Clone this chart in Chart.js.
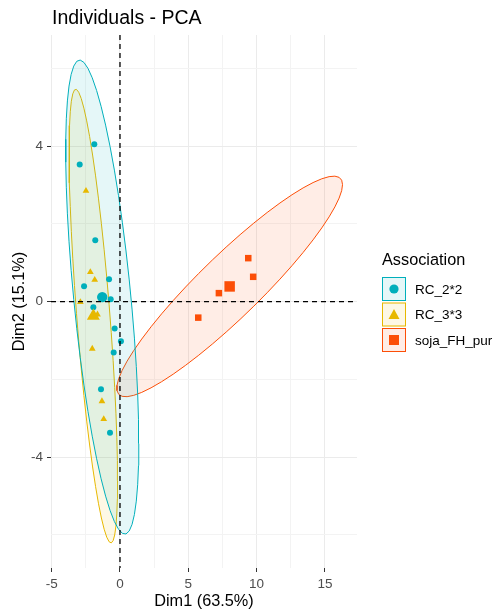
<!DOCTYPE html>
<html>
<head>
<meta charset="utf-8">
<title>Individuals - PCA</title>
<script src="https://cdn.jsdelivr.net/npm/chart.js@4.4.1/dist/chart.umd.min.js"></script>
<style>
    html, body { margin: 0; padding: 0; background: #ffffff; }
    #wrap { width: 497px; height: 614px; }
</style>
</head>
<body>
<div id="wrap"><canvas id="pcaChart" width="497" height="614"></canvas></div>
<script>
// Individuals coordinates
var groups = ['RC_2*2', 'RC_3*3', 'soja_FH_pur'];
var rc22Dim1 = [-1.88, -2.95, -1.81, -0.80, -2.63, -0.68, -1.95, -0.39, 0.07, -0.46, -1.39, -0.73];
var rc22Dim2 = [4.05, 3.53, 1.58, 0.58, 0.40, 0.06, -0.14, -0.69, -1.02, -1.31, -2.25, -3.37];
var rc33Dim1 = [-2.49, -2.17, -1.85, -2.90, -2.03, -1.32, -1.19, -1.65];
var rc33Dim2 = [2.85, 0.76, 0.56, -0.01, -1.21, -2.56, -3.02, -0.33];
var sojaDim1 = [9.39, 9.75, 7.24, 5.73];
var sojaDim2 = [1.12, 0.64, 0.22, -0.41];

// axis ticks
var xTicks = [-5, 0, 5, 10, 15];
var xMinor = [-2.5, 2.5, 7.5, 12.5];
var yTicks = [-4, 0, 4];
var yMinor = [-6, -2, 2, 6];

var colors = ['#00AFBB', '#E7B800', '#FC4E07'];
var fills = ['rgba(0,175,187,0.1)', 'rgba(231,184,0,0.1)', 'rgba(252,78,7,0.1)'];
var FONT = "'Liberation Sans', Arial, sans-serif";

function mean(a) {
    var s = 0;
    for (var i = 0; i < a.length; i++) s += a[i];
    return s / a.length;
}

function toPoints(xs, ys) {
    return xs.map(function(x, i) { return { x: x, y: ys[i] }; });
}

// same as ggplot2 stat_ellipse(type = "norm", level = 0.95)
function ellipse(xs, ys) {
    var n = xs.length, mx = mean(xs), my = mean(ys);
    var sxx = 0, syy = 0, sxy = 0;
    for (var i = 0; i < n; i++) {
        sxx += (xs[i] - mx) * (xs[i] - mx);
        syy += (ys[i] - my) * (ys[i] - my);
        sxy += (xs[i] - mx) * (ys[i] - my);
    }
    sxx /= n - 1; syy /= n - 1; sxy /= n - 1;
    var a = Math.sqrt(sxx), b = sxy / a, c = Math.sqrt(syy - b * b);
    var radius = Math.sqrt((n - 1) * (Math.pow(0.05, -2 / (n - 1)) - 1));
    var pts = [];
    for (var k = 0; k <= 51; k++) {
        var t = k * 2 * Math.PI / 51;
        pts.push({
            x: mx + radius * a * Math.cos(t),
            y: my + radius * (b * Math.cos(t) + c * Math.sin(t))
        });
    }
    return pts;
}

var dims = [[rc22Dim1, rc22Dim2], [rc33Dim1, rc33Dim2], [sojaDim1, sojaDim2]];
var shapes = ['circle', 'triangle', 'rect'];
var smallR = [3, 3.9, 4.6];
var bigR = [5.2, 7.5, 7.4];

var datasets = [];
dims.forEach(function(d, g) {
    datasets.push({
        label: groups[g],
        data: toPoints(d[0], d[1]),
        pointStyle: shapes[g],
        pointRadius: smallR[g],
        backgroundColor: colors[g],
        borderWidth: 0,
        order: 1
    });
    datasets.push({
        label: groups[g] + ' mean',
        data: [{ x: mean(d[0]), y: mean(d[1]) }],
        pointStyle: shapes[g],
        pointRadius: bigR[g],
        backgroundColor: colors[g],
        borderWidth: 0,
        order: 0
    });
    datasets.push({
        label: groups[g] + ' ellipse',
        data: ellipse(d[0], d[1]),
        showLine: true,
        pointRadius: 0,
        borderColor: colors[g],
        borderWidth: 1,
        backgroundColor: fills[g],
        fill: 'shape',
        tension: 0,
        order: 2
    });
});

// dashed zero lines, titles and legend
var decorations = {
    id: 'decorations',
    afterDatasetsDraw: function(chart) {
        var ctx = chart.ctx, area = chart.chartArea;
        var x0 = chart.scales.x.getPixelForValue(0);
        var y0 = chart.scales.y.getPixelForValue(0);
        ctx.save();
        ctx.strokeStyle = '#000000';
        ctx.lineWidth = 1.3;
        ctx.setLineDash([5, 4]);
        ctx.beginPath();
        ctx.moveTo(x0, area.top);
        ctx.lineTo(x0, area.bottom);
        ctx.moveTo(area.left, y0);
        ctx.lineTo(area.right, y0);
        ctx.stroke();
        ctx.restore();
    },
    afterDraw: function(chart) {
        var ctx = chart.ctx, area = chart.chartArea;
        ctx.save();
        ctx.fillStyle = '#000000';
        ctx.textBaseline = 'alphabetic';
        ctx.textAlign = 'left';
        ctx.font = '19.5px ' + FONT;
        ctx.fillText('Individuals - PCA', 52, 24);

        ctx.font = '16.3px ' + FONT;
        ctx.textAlign = 'center';
        ctx.textBaseline = 'middle';
        ctx.fillText('Dim1 (63.5%)', (area.left + area.right) / 2, 602);
        ctx.save();
        ctx.translate(20, (area.top + area.bottom) / 2);
        ctx.rotate(-Math.PI / 2);
        ctx.fillText('Dim2 (15.1%)', 0, 0);
        ctx.restore();

        // legend
        ctx.textAlign = 'left';
        ctx.fillText('Association', 382, 261);
        ctx.font = '13.5px ' + FONT;
        for (var g = 0; g < groups.length; g++) {
            var top = 277 + g * 25.5;
            ctx.fillStyle = fills[g];
            ctx.fillRect(382, top, 24, 24);
            ctx.strokeStyle = colors[g];
            ctx.lineWidth = 1;
            ctx.strokeRect(382.5, top + 0.5, 23, 23);
            ctx.fillStyle = colors[g];
            ctx.beginPath();
            if (shapes[g] === 'circle') {
                ctx.arc(394, top + 12, 4.6, 0, 2 * Math.PI);
            } else if (shapes[g] === 'triangle') {
                ctx.moveTo(394, top + 6.5);
                ctx.lineTo(399.5, top + 16.5);
                ctx.lineTo(388.5, top + 16.5);
                ctx.closePath();
            } else {
                ctx.rect(389, top + 7, 10, 10);
            }
            ctx.fill();
            ctx.fillStyle = '#000000';
            ctx.fillText(groups[g], 415, top + 13);
        }
        ctx.restore();
    }
};

function isIn(list, v) {
    for (var i = 0; i < list.length; i++) {
        if (Math.abs(list[i] - v) < 1e-9) return true;
    }
    return false;
}

var ctx = document.getElementById('pcaChart').getContext('2d');
new Chart(ctx, {
    type: 'scatter',
    data: { datasets: datasets },
    plugins: [decorations],
    options: {
        responsive: false,
        animation: false,
        layout: { padding: { top: 35, right: 140, left: 0, bottom: 0 } },
        plugins: {
            legend: { display: false },
            tooltip: { enabled: false }
        },
        scales: {
            x: {
                type: 'linear',
                min: -5.05,
                max: 17.35,
                afterBuildTicks: function(scale) {
                    scale.ticks = xTicks.concat(xMinor).sort(function(a, b) { return a - b; })
                        .map(function(v) { return { value: v }; });
                },
                afterFit: function(scale) { scale.height = 46; },
                border: { display: false },
                grid: {
                    color: function(c) { return isIn(xTicks, c.tick.value) ? '#EBEBEB' : '#F3F3F3'; },
                    lineWidth: 1,
                    tickLength: 4,
                    tickColor: function(c) { return isIn(xTicks, c.tick.value) ? '#333333' : 'rgba(0,0,0,0)'; }
                },
                ticks: {
                    autoSkip: false,
                    maxRotation: 0,
                    padding: 4,
                    color: '#4D4D4D',
                    font: { family: FONT, size: 13.5 },
                    callback: function(v) { return isIn(xTicks, v) ? String(v) : ''; }
                }
            },
            y: {
                type: 'linear',
                min: -6.85,
                max: 6.86,
                afterBuildTicks: function(scale) {
                    scale.ticks = yTicks.concat(yMinor).sort(function(a, b) { return a - b; })
                        .map(function(v) { return { value: v }; });
                },
                afterFit: function(scale) { scale.width = 51; },
                border: { display: false },
                grid: {
                    color: function(c) { return isIn(yTicks, c.tick.value) ? '#EBEBEB' : '#F3F3F3'; },
                    lineWidth: 1,
                    tickLength: 4,
                    tickColor: function(c) { return isIn(yTicks, c.tick.value) ? '#333333' : 'rgba(0,0,0,0)'; }
                },
                ticks: {
                    autoSkip: false,
                    padding: 4,
                    color: '#4D4D4D',
                    font: { family: FONT, size: 13.5 },
                    callback: function(v) { return isIn(yTicks, v) ? String(v) : ''; }
                }
            }
        }
    }
});
</script>
</body>
</html>
